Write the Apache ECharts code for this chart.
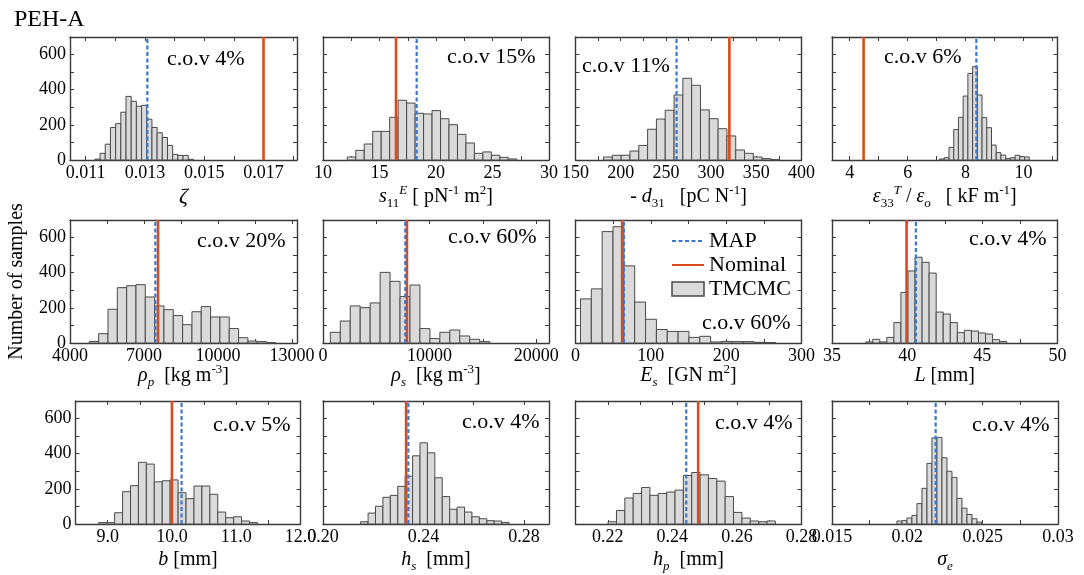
<!DOCTYPE html>
<html><head><meta charset="utf-8">
<script src="https://cdn.jsdelivr.net/npm/echarts@6/dist/echarts.min.js"></script>
<style>html,body{margin:0;padding:0;background:#fff}#c{width:1084px;height:575px}</style>
</head><body><div id="c"></div>
<script>
// ---------- data ----------
const counts_zeta  = [5,38,90,185,207,272,362,334,306,311,232,185,155,128,83,32,26,26,4];
const counts_s11   = [17,55,91,163,163,243,340,324,266,262,281,235,201,146,97,38,46,27,15,6];
const counts_d31   = [17,27,27,51,83,175,233,283,370,465,425,285,235,178,137,57,38,17,8,2];
const counts_eps33 = [6,13,72,173,243,364,493,531,370,241,184,85,42,28,8,13,27,19,17];
const counts_rhoP  = [9,53,192,315,326,332,262,211,190,156,104,178,207,148,148,82,30,11,8,2];
const counts_rhoS  = [61,125,211,201,228,402,351,264,330,82,25,61,74,40,21,8];
const counts_Es    = [251,308,634,662,439,233,135,77,66,66,32,38,6,9,8,8,4,3];
const counts_L     = [6,21,6,32,116,288,410,488,459,398,176,165,116,59,72,68,57,51,19,9];
const counts_b     = [8,8,64,184,218,351,341,240,246,251,178,144,216,216,169,68,36,41,17,8];
const counts_hs    = [13,62,101,152,163,214,272,388,462,405,263,156,84,96,68,41,30,19,17,9];
const counts_hp    = [13,77,148,174,208,163,174,182,193,276,293,280,259,244,156,66,34,17,13,17];
const counts_sigE  = [17,19,34,49,116,203,345,490,493,377,300,265,146,90,54,30,11];

const binStart = [0.01131, 12.15, 181, 7.10, 4784, 688, 6.6, 37.24, 8.862, 0.2150, 0.2201, 0.01931];
const binWidth = [0.000175, 0.75, 9.75, 0.163, 378, 934, 14.4, 0.469, 0.1234, 0.002954, 0.00259, 0.000332];

const mapValues     = [0.01308, 18.29, 261.8, 8.37, 7459, 7719, 64.2, 40.58, 10.15, 0.2340, 0.2443, 0.02188];
const nominalValues = [0.0170, 16.46, 320.2, 4.48, 7567, 7875, 61.9, 39.96, 10.0, 0.2331, 0.2480, null];

const xMin = [0.01047, 10, 150, 3.39, 4000, 0, 0, 35, 8.5, 0.20, 0.21, 0.015];
const xMax = [0.01813, 30, 400, 11.17, 13200, 21200, 300, 50, 12.0, 0.29, 0.28, 0.030];

const xTickValues = [
  [0.011,0.012,0.013,0.014,0.015,0.016,0.017,0.018],
  [10,12.5,15,17.5,20,22.5,25,27.5,30],
  [150,175,200,225,250,275,300,325,350,375,400],
  [4,5,6,7,8,9,10,11],
  [4000,5500,7000,8500,10000,11500,13000],
  [0,5000,10000,15000,20000],
  [0,50,100,150,200,250,300],
  [35,37.5,40,42.5,45,47.5,50],
  [8.5,9.0,9.5,10.0,10.5,11.0,11.5,12.0],
  [0.20,0.22,0.24,0.26,0.28],
  [0.21,0.22,0.23,0.24,0.25,0.26,0.27,0.28],
  [0.015,0.0175,0.02,0.0225,0.025,0.0275,0.03]
];
const xTickLabels = [
  ['0.011','0.013','0.015','0.017'],
  ['10','15','20','25','30'],
  ['150','200','250','300','350','400'],
  ['4','6','8','10'],
  ['4000','7000','10000','13000'],
  ['0','10000','20000'],
  ['0','100','200','300'],
  ['35','40','45','50'],
  ['9.0','10.0','11.0','12.0'],
  ['0.20','0.24','0.28'],
  ['0.22','0.24','0.26','0.28'],
  ['0.015','0.02','0.025','0.03']
];
const yTickValues = [0,100,200,300,400,500,600,700];
const yTickLabels = ['0','200','400','600'];

const covLabels = ['c.o.v 4%','c.o.v 15%','c.o.v 11%','c.o.v 6%','c.o.v 20%','c.o.v 60%',
                   'c.o.v 60%','c.o.v 4%','c.o.v 5%','c.o.v 4%','c.o.v 4%','c.o.v 4%'];

const axisTitles = [
  '{ig|ζ}',
  '{i|s}{sub|11}{supi|E}{r| [ pN}{sup|-1}{r| m}{sup|2}{r|]}',
  '{r|- }{i|d}{sub|31}{r|   [pC N}{sup|-1}{r|]}',
  '{i|ε}{sub|33}{supi|T}{r| / }{i|ε}{subi|o}{r|   [ kF m}{sup|-1}{r|]}',
  '{i|ρ}{subi|p}{r|  [kg m}{sup|-3}{r|]}',
  '{i|ρ}{subi|s}{r|  [kg m}{sup|-3}{r|]}',
  '{i|E}{subi|s}{r|  [GN m}{sup|2}{r|]}',
  '{i|L}{r| [mm]}',
  '{i|b}{r| [mm]}',
  '{i|h}{subi|s}{r|  [mm]}',
  '{i|h}{subi|p}{r|  [mm]}',
  '{i|σ}{subi|e}'
];
const allCounts = [counts_zeta,counts_s11,counts_d31,counts_eps33,counts_rhoP,counts_rhoS,
                   counts_Es,counts_L,counts_b,counts_hs,counts_hp,counts_sigE];

// ---------- layout & style ----------
const F = "'Liberation Serif','Times New Roman',serif";
const layout = [
  [70,37,227,123],[323,37,226,123],[575.5,37,226,123],[832,37,225.5,123],
  [70,220,227,123],[323,220,226,123],[575.5,220,226,123],[832,220,225.5,123],
  [75.5,401,225,123],[323,401,226,123],[575.5,401,226,123],[832,401,226,123]
];
const nameGaps = [24,20,23];
const covPos = [
  [167,59],[447,57],[582,66],[884,57],
  [197,241],[448,237],[702,323],[969,239],
  [213,425],[462,422],[715,423],[972,425]
];
const frameColor = '#3a3a3a';
const barFill = '#DADADA', barStroke = '#4a4a4a';
const red = '#DC4A1B', blue = '#3B78CC';

const rich = {
  r:   {fontFamily:F, fontSize:20, color:'#000', lineHeight:26},
  i:   {fontFamily:F, fontSize:20, color:'#000', lineHeight:26, fontStyle:'italic'},
  ig:  {fontFamily:F, fontSize:22, color:'#000', lineHeight:26, fontStyle:'italic'},
  sub: {fontFamily:F, fontSize:13, color:'#000', lineHeight:14, verticalAlign:'bottom'},
  subi:{fontFamily:F, fontSize:13, color:'#000', lineHeight:14, verticalAlign:'bottom', fontStyle:'italic'},
  sup: {fontFamily:F, fontSize:13, color:'#000', lineHeight:14, verticalAlign:'top'},
  supi:{fontFamily:F, fontSize:13, color:'#000', lineHeight:14, verticalAlign:'top', fontStyle:'italic'}
};

function labelFormatter(labels){
  return function(v){
    for (const s of labels){ const n = parseFloat(s); if (Math.abs(n - v) <= 1e-9 * Math.max(1, Math.abs(n))) return s; }
    return '';
  };
}

const grids=[], xAxes=[], yAxes=[], series=[], graphics=[];
const lineSt = {color:frameColor, width:1.4};
const tickSt = {color:frameColor, width:1};

for (let i=0;i<12;i++){
  const r = Math.floor(i/4), c = i%4;
  const g = layout[i];
  grids.push({left:g[0], top:g[1], width:g[2], height:g[3], containLabel:false, outerBoundsMode:'none'});
  const xCommon = {type:'value', gridIndex:i, min:xMin[i], max:xMax[i], splitLine:{show:false},
    axisLine:{show:true, onZero:false, lineStyle:lineSt},
    axisTick:{show:true, inside:true, length:4, customValues:xTickValues[i], lineStyle:tickSt}};
  xAxes.push(Object.assign({}, xCommon, {position:'bottom',
    name:axisTitles[i], nameLocation:'middle', nameGap:nameGaps[r], nameMoveOverlap:false,
    nameTextStyle:{fontFamily:F, fontSize:20, color:'#000', rich:rich},
    axisLabel:{show:true, customValues:xTickLabels[i].map(Number), formatter:labelFormatter(xTickLabels[i]),
      margin:4, fontFamily:F, fontSize:18, color:'#000', hideOverlap:false}}));
  xAxes.push(Object.assign({}, xCommon, {position:'top', axisLabel:{show:false}}));
  const yCommon = {type:'value', gridIndex:i, min:0, max:700, splitLine:{show:false},
    axisLine:{show:true, onZero:false, lineStyle:lineSt},
    axisTick:{show:true, inside:true, length:4, customValues:yTickValues, lineStyle:tickSt}};
  const yLeft = Object.assign({}, yCommon, {position:'left',
    axisLabel:{show:c===0, customValues:yTickLabels.map(Number), formatter:labelFormatter(yTickLabels),
      margin:4, fontFamily:F, fontSize:18, color:'#000'}});
  if (i===4){
    Object.assign(yLeft, {name:'Number of samples', nameLocation:'middle', nameGap:43, nameRotate:90, nameMoveOverlap:false,
      nameTextStyle:{fontFamily:F, fontSize:20, color:'#000'}});
  }
  yAxes.push(yLeft);
  yAxes.push(Object.assign({}, yCommon, {position:'right', axisLabel:{show:false}}));

  const counts = allCounts[i], s0 = binStart[i], w = binWidth[i];
  series.push({
    type:'custom', name:'TMCMC', xAxisIndex:2*i, yAxisIndex:2*i, z:2, silent:true,
    encode:{x:[0,1], y:2},
    data: counts.map((n,k)=>[s0 + k*w, s0 + (k+1)*w, n]),
    itemStyle:{color:barFill, borderColor:barStroke, borderWidth:1},
    renderItem: function(params, api){
      const p0 = api.coord([api.value(0), api.value(2)]);
      const p1 = api.coord([api.value(1), 0]);
      return {type:'rect', shape:{x:p0[0], y:p0[1], width:p1[0]-p0[0], height:p1[1]-p0[1]},
        style:{fill:barFill, stroke:barStroke, lineWidth:1}};
    }
  });
  if (nominalValues[i] !== null){
    series.push({type:'line', name:'Nominal', xAxisIndex:2*i, yAxisIndex:2*i, z:4, silent:true,
      symbol:'none', lineStyle:{color:red, width:2.6, type:'solid'}, itemStyle:{color:red},
      data:[[nominalValues[i],0],[nominalValues[i],700]]});
  }
  series.push({type:'line', name:'MAP', xAxisIndex:2*i, yAxisIndex:2*i, z:5, silent:true,
    symbol:'none', lineStyle:{color:blue, width:2.2, type:[4,2.5]}, itemStyle:{color:blue},
    data:[[mapValues[i],0],[mapValues[i],700]]});

  graphics.push({type:'text', x:covPos[i][0], y:covPos[i][1], z:10,
    style:{text:covLabels[i], fontFamily:F, fontSize:22, fill:'#000', verticalAlign:'middle', align:'left'}});
}

const option = {
  animation:false,
  backgroundColor:'#fff',
  title:{text:'PEH-A', left:9, top:3, textStyle:{fontFamily:F, fontSize:24, fontWeight:'normal', color:'#000'}},
  legend:{left:666, top:225, orient:'vertical', itemWidth:32, itemHeight:14, itemGap:2, selectedMode:false,
    textStyle:{fontFamily:F, fontSize:22, color:'#000'},
    data:[{name:'MAP', itemStyle:{opacity:0}},{name:'Nominal', itemStyle:{opacity:0}},
      {name:'TMCMC', icon:'rect', itemStyle:{color:barFill, borderColor:barStroke, borderWidth:1.5}}]},
  grid:grids, xAxis:xAxes, yAxis:yAxes, series:series, graphic:graphics
};
const chart = echarts.init(document.getElementById('c'), null, {renderer:'canvas'});
chart.setOption(option);
</script></body></html>
